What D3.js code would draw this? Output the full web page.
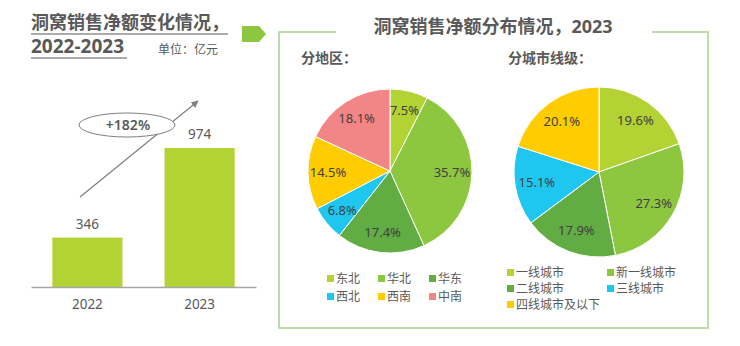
<!DOCTYPE html>
<html><head><meta charset="utf-8">
<script src="https://cdn.jsdelivr.net/npm/d3@7"></script>
<style>
html,body{margin:0;padding:0;background:#fff;}
text{font-family:"Noto Sans","Noto Sans CJK SC",sans-serif;}
</style></head>
<body><svg id="c" width="740" height="346"></svg>
<script>
const years = ["2022","2023"];
const salesValues = [346, 974];
const growthLabel = "+182%";
const regionNames = ["东北","华北","华东","西北","西南","中南"];
const regionValues = [7.5, 35.7, 17.4, 6.8, 14.5, 18.1];
const regionColors = ["#b3d234","#8dc63f","#62ad43","#1fc7f0","#ffcc00","#f28585"];
const tierNames = ["一线城市","新一线城市","二线城市","三线城市","四线城市及以下"];
const tierValues = [19.6, 27.3, 17.9, 15.1, 20.1];
const tierColors = ["#b3d234","#8dc63f","#62ad43","#1fc7f0","#ffcc00"];

const svg = d3.select("#c");
const gray = "#595959";
const CJK = '"Noto Sans CJK SC","Noto Sans",sans-serif';

// ---------- Left: bar chart ----------
svg.append("text").attr("x",31).attr("y",29).attr("font-family",CJK).attr("font-size",18).attr("font-weight","bold").attr("fill",gray).text("洞窝销售净额变化情况，");
svg.append("line").attr("x1",31).attr("x2",228).attr("y1",34).attr("y2",34).attr("stroke",gray).attr("stroke-width",1.2);
svg.append("text").attr("x",31).attr("y",53).attr("font-family",'"Noto Sans",sans-serif').attr("font-size",19).attr("font-weight","bold").attr("fill",gray).text("2022-2023");
svg.append("line").attr("x1",31).attr("x2",127).attr("y1",58).attr("y2",58).attr("stroke",gray).attr("stroke-width",1.2);
svg.append("text").attr("x",158).attr("y",54).attr("font-family",CJK).attr("font-size",12).attr("fill",gray).text("单位：亿元");

const x = d3.scaleBand().domain(years).range([31,256]).paddingInner(0.375).paddingOuter(0.19);
const y = d3.scaleLinear().domain([0,974]).range([287,148]);
svg.selectAll("rect.bar").data(years).join("rect").attr("class","bar")
  .attr("x",d=>x(d)).attr("width",x.bandwidth())
  .attr("y",(d,i)=>y(salesValues[i])).attr("height",(d,i)=>y(0)-y(salesValues[i]))
  .attr("fill","#b3d234");
svg.selectAll("text.val").data(years).join("text").attr("class","val")
  .attr("x",d=>x(d)+x.bandwidth()/2).attr("y",(d,i)=>y(salesValues[i])-9)
  .attr("text-anchor","middle").attr("font-size",13.5).attr("fill",gray).text((d,i)=>salesValues[i]);
const xAxis = svg.append("g").attr("transform","translate(0,287)").call(d3.axisBottom(x).tickSize(0).tickPadding(12));
xAxis.select(".domain").attr("stroke","#a6a6a6").attr("stroke-width",1.5);
xAxis.selectAll("text").attr("font-size",13.5).attr("fill",gray).attr("font-family",'"Noto Sans",sans-serif');

// arrow
svg.append("defs").append("marker").attr("id","ah").attr("viewBox","0 0 10 10").attr("refX",9).attr("refY",5)
  .attr("markerWidth",6).attr("markerHeight",6).attr("orient","auto")
  .append("path").attr("d","M0,0 L10,5 L0,10 z").attr("fill","#7f7f7f");
svg.append("line").attr("x1",80).attr("y1",197).attr("x2",198).attr("y2",101).attr("stroke","#7f7f7f").attr("stroke-width",1.2).attr("marker-end","url(#ah)");
svg.append("ellipse").attr("cx",127).attr("cy",125).attr("rx",48).attr("ry",12).attr("fill","#fff").attr("stroke","#7f7f7f").attr("stroke-width",1);
svg.append("text").attr("x",128).attr("y",130).attr("text-anchor","middle").attr("font-size",14).attr("font-weight","600").attr("fill",gray).text(growthLabel);

// ---------- Right panel ----------
svg.append("path").attr("d","M242,26 L259,26 L266,34 L259,42 L242,42 Z").attr("fill","#8dc63f");
const bc = "#a9d18e";
svg.append("path").attr("d","M336,32 L279,32 L279,328 L708,328 L708,32 L652,32").attr("fill","none").attr("stroke",bc).attr("stroke-width",1.5);
svg.append("text").attr("x",493).attr("y",33).attr("text-anchor","middle").attr("font-family",CJK).attr("font-size",18).attr("font-weight","bold").attr("fill",gray).text("洞窝销售净额分布情况，2023");
svg.append("text").attr("x",301).attr("y",63).attr("font-family",CJK).attr("font-size",14).attr("font-weight","bold").attr("fill",gray).text("分地区：");
svg.append("text").attr("x",508).attr("y",63).attr("font-family",CJK).attr("font-size",14).attr("font-weight","bold").attr("fill",gray).text("分城市线级：");

function drawPie(cx, cy, r, names, values, colors, labelR){
  const g = svg.append("g").attr("transform",`translate(${cx},${cy})`);
  const pie = d3.pie().sort(null).value(d=>d)(values);
  const arc = d3.arc().innerRadius(0).outerRadius(r);
  const la = d3.arc().innerRadius(labelR).outerRadius(labelR);
  g.selectAll("path").data(pie).join("path").attr("d",arc).attr("fill",(d,i)=>colors[i]).attr("stroke","#fff").attr("stroke-width",1);
  g.selectAll("text").data(pie).join("text")
    .attr("transform",d=>`translate(${la.centroid(d)})`).attr("text-anchor","middle").attr("dy","0.35em")
    .attr("font-size",13).attr("fill","#404040").text(d=>d.data.toFixed(1)+"%");
}
drawPie(390,171,82,regionNames,regionValues,regionColors,62);
drawPie(599,172,85,tierNames,tierValues,tierColors,63);

function legend(items, colors, positions){
  items.forEach((n,i)=>{
    const [lx,ly] = positions[i];
    svg.append("rect").attr("x",lx).attr("y",ly-4).attr("width",7).attr("height",7).attr("fill",colors[i]);
    svg.append("text").attr("x",lx+9).attr("y",ly+4).attr("font-family",CJK).attr("font-size",12).attr("fill",gray).text(n);
  });
}
legend(regionNames, regionColors, [[327,279],[378,279],[429,279],[327,297],[378,297],[429,297]]);
legend(tierNames, tierColors, [[507,273],[607,273],[507,289],[607,289],[507,305]]);
</script></body></html>
